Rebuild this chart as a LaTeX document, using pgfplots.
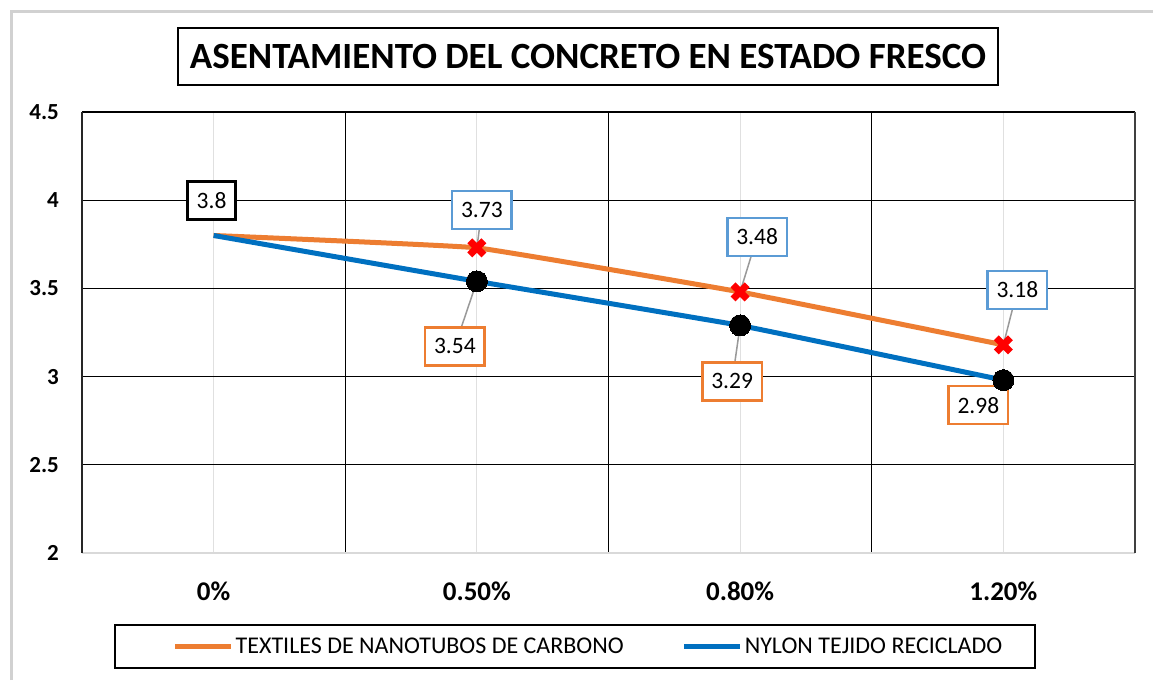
\documentclass[border=0pt]{standalone}
\usepackage{pgfplots}
\pgfplotsset{compat=1.18}
\usepackage{fontspec}
\setmainfont{Carlito}
\definecolor{orgl}{HTML}{ED7D31}
\definecolor{blul}{HTML}{0070C0}
\definecolor{lblue}{HTML}{5B9BD5}
\definecolor{xred}{HTML}{FF0000}
\begin{document}
\begin{tikzpicture}[x=1pt,y=1pt]
\useasboundingbox (0,0) rectangle (1153,680);
\fill[white] (0,0) rectangle (1153,680);
\draw[black!18, line width=3pt] (11,0) -- (11,668) -- (1153,668);
\node[draw, line width=2.5pt, minimum width=820pt, minimum height=57pt, inner sep=0pt,
  font=\fontsize{37}{41}\selectfont\bfseries] at (588,623.5) {ASENTAMIENTO DEL CONCRETO EN ESTADO FRESCO};
\draw[line width=2.5pt] (115,12) rectangle (1035,55);
\begin{axis}[
  at={(82pt,127pt)}, anchor=south west, scale only axis,
  width=1053pt, height=441pt,
  xmin=-0.5, xmax=3.5, ymin=2, ymax=4.5,
  clip=false,
  axis line style={draw=none},
  xtick={0,1,2,3}, xticklabels={0\%,0.50\%,0.80\%,1.20\%},
  ytick={2,2.5,3,3.5,4,4.5},
  major tick length=0pt,
  xmajorgrids, ymajorgrids,
  major x grid style={black!12, line width=1.2pt},
  major y grid style={black, line width=1.2pt},
  extra x ticks={0.5,1.5,2.5}, extra x tick labels={},
  extra x tick style={grid=major, major x grid style={black, line width=1.2pt}},
  /pgf/number format/assume math mode=true,
  yticklabel style={font=\fontsize{23}{27}\selectfont\bfseries, anchor=east, inner sep=0pt, xshift=-23pt},
  xticklabel style={font=\fontsize{27}{31}\selectfont\bfseries, anchor=north, inner sep=0pt, yshift=-29pt},
  legend columns=2,
  legend style={draw=none, fill=none, at={(rel axis cs:0.481,-0.212)}, anchor=center,
    font=\fontsize{24}{28}\selectfont, /tikz/every even column/.append style={column sep=56pt}},
]
\draw[black!15, line width=2pt] (rel axis cs:0,0) -- (rel axis cs:1,0);
\draw[black!85, line width=1.5pt] (rel axis cs:0,0) -- (rel axis cs:0,1);
\draw[black!75, line width=1.5pt] (rel axis cs:1,0) -- (rel axis cs:1,1);
% leader lines
\draw[black!40, line width=1.5pt] (axis cs:1,3.73) -- ++(5pt,38pt);
\draw[black!40, line width=1.5pt] (axis cs:2,3.48) -- ++(17pt,55pt);
\draw[black!40, line width=1.5pt] (axis cs:3,3.18) -- ++(14pt,55pt);
\draw[black!40, line width=1.5pt] (axis cs:1,3.54) -- ++(-22pt,-65pt);
\draw[black!40, line width=1.5pt] (axis cs:2,3.29) -- ++(-8pt,-56pt);
\addplot[orgl, line width=5pt, smooth, tension=0.15,
  mark=x, mark indices={2,3,4}, mark size=10pt,
  mark options={xred, line width=7pt, solid},
  legend image code/.code={\draw[orgl, line width=5pt] (0pt,0pt) -- (56pt,0pt);}]
  coordinates {(0,3.8) (1,3.73) (2,3.48) (3,3.18)};
\addlegendentry{TEXTILES DE NANOTUBOS DE CARBONO}
\addplot[blul, line width=5pt, smooth, tension=0.15,
  mark=*, mark indices={2,3,4}, mark size=10.5pt,
  mark options={fill=black, draw=black, line width=0pt},
  legend image code/.code={\draw[blul, line width=5pt] (0pt,0pt) -- (56pt,0pt);}]
  coordinates {(0,3.8) (1,3.54) (2,3.29) (3,2.98)};
\addlegendentry{NYLON TEJIDO RECICLADO}
\tikzset{lab/.style={fill=white, inner xsep=9pt, inner ysep=0pt, minimum height=38pt,
  font=\fontsize{23.5}{27}\selectfont, line width=2.5pt}}
\node[lab, draw=black, line width=3pt, xshift=-2pt, yshift=35pt] at (axis cs:0,3.8) {3.8};
\node[lab, draw=lblue, xshift=5pt, yshift=38pt] at (axis cs:1,3.73) {3.73};
\node[lab, draw=lblue, xshift=17pt, yshift=55pt] at (axis cs:2,3.48) {3.48};
\node[lab, draw=lblue, xshift=14pt, yshift=55pt] at (axis cs:3,3.18) {3.18};
\node[lab, draw=orgl, xshift=-22pt, yshift=-65pt] at (axis cs:1,3.54) {3.54};
\node[lab, draw=orgl, xshift=-8pt, yshift=-56pt] at (axis cs:2,3.29) {3.29};
\node[lab, draw=orgl, xshift=-25pt, yshift=-25pt] at (axis cs:3,2.98) {2.98};
\end{axis}
\end{tikzpicture}
\end{document}
